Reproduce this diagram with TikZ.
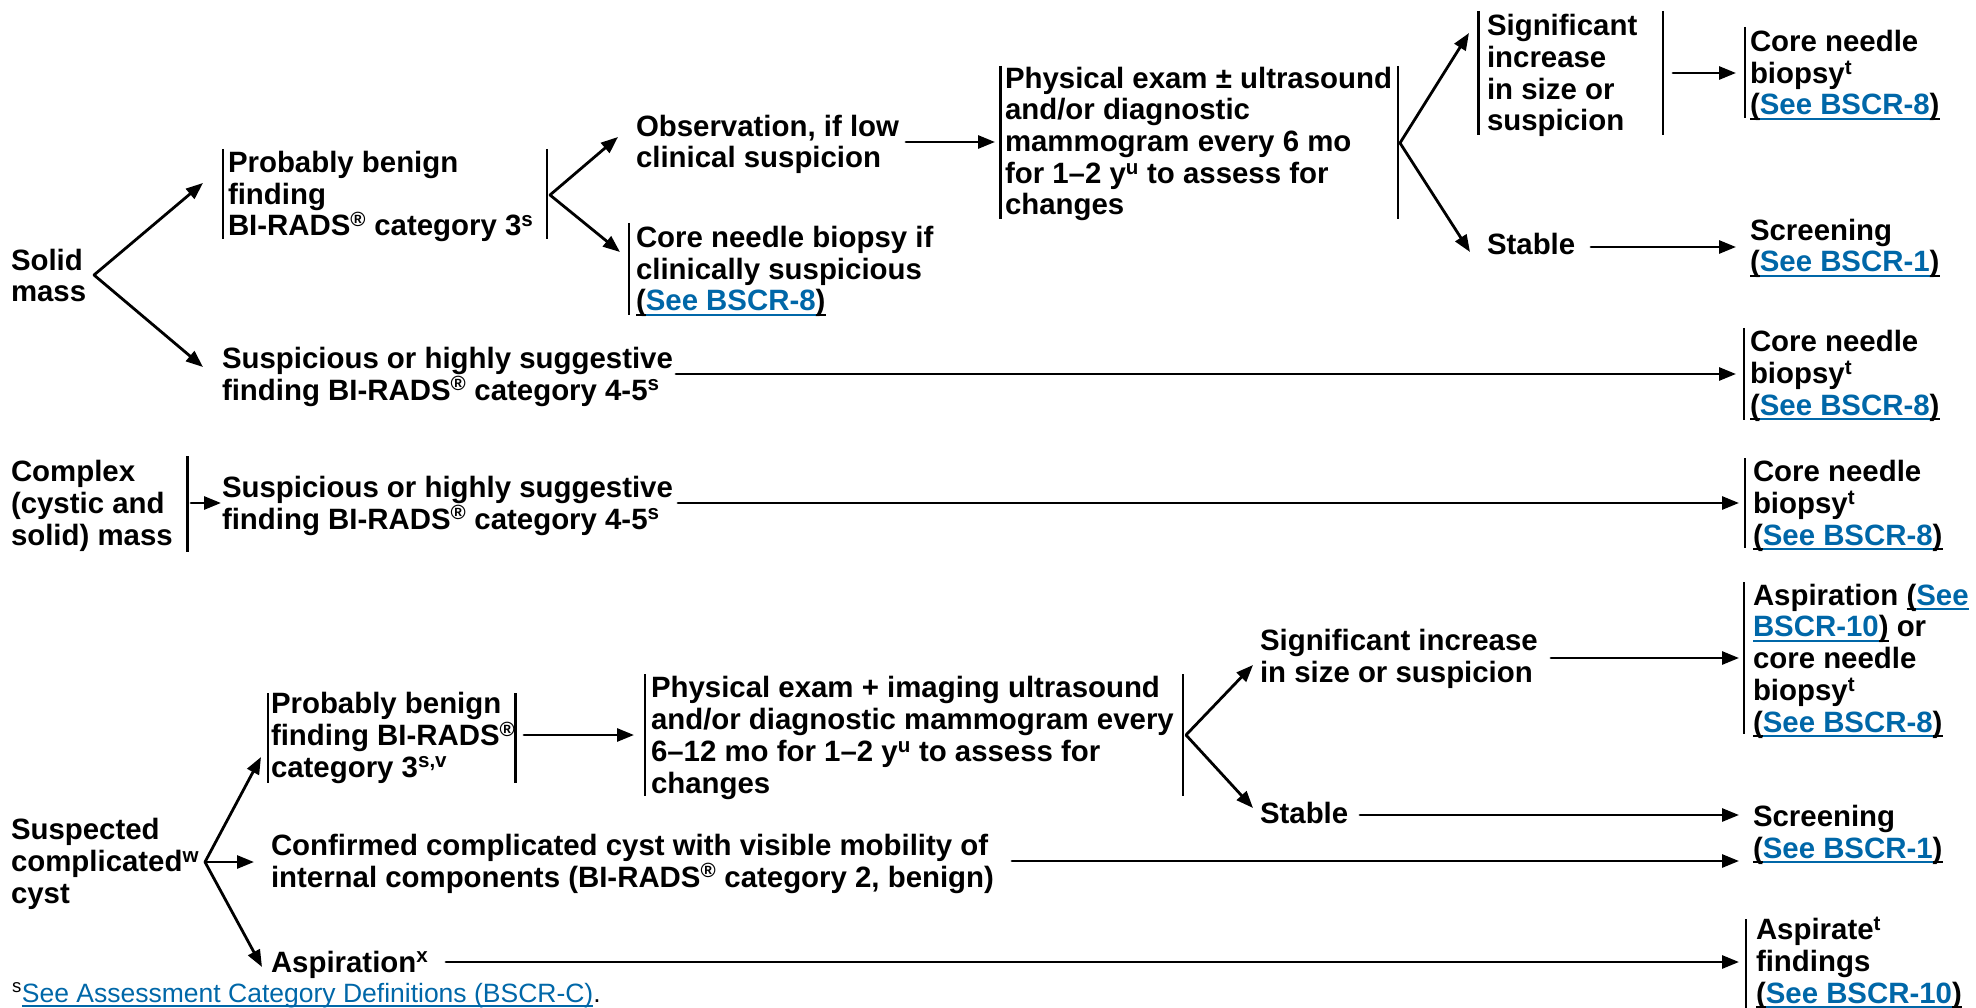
\documentclass[tikz,border=0pt]{standalone}
\usepackage{fontspec}
\setmainfont{Liberation Sans}
\usetikzlibrary{arrows.meta}
\definecolor{linkblue}{HTML}{0067A8}
% underline with a fixed depth below the baseline
\newsavebox\ulbox
\newcommand\uln[1]{\sbox\ulbox{#1}\rlap{\rule[-4.8pt]{\wd\ulbox}{1.8pt}}\usebox\ulbox}
% link text: blue and underlined
\newcommand\lnk[1]{\textcolor{linkblue}{\uln{#1}}}
% reference in parentheses, all underlined
\newcommand\sref[1]{\uln{(}\lnk{#1}\uln{)}}
\newcommand\reg{\textsuperscript{\textregistered}}
\newcommand\fnm[1]{\textsuperscript{#1}}
\begin{document}
\begin{tikzpicture}[x=1pt,y=-1pt,
  % text blocks are placed by the baseline of their last line
  txt/.style={anchor=base west, inner sep=0pt, outer sep=0pt, align=left,
    font=\bfseries\fontsize{29.4}{31.7}\selectfont},
  bar/.style={line width=2.7pt},
  arr/.style={line width=2.8pt, line cap=round, -{Triangle[length=17pt,width=13pt]}},
]
\useasboundingbox (0,0) rectangle (1976,1008);

% ---------- Solid mass ----------
\node[txt] (solid) at (11,302) {Solid\\mass};
\node[txt] (pb1) at (228,236) {Probably benign\\finding\\BI-RADS\reg{} category 3\fnm{s}};
\node[txt] (obs) at (636,168) {Observation, if low\\clinical suspicion};
\node[txt] (cnb1) at (636,311) {Core needle biopsy if\\clinically suspicious\\\sref{See BSCR-8}};
\node[txt] (phys1) at (1005,215) {Physical exam \textpm{} ultrasound\\and/or diagnostic\\mammogram every 6 mo\\for 1--2 y\fnm{u} to assess for\\changes};
\node[txt] (sig1) at (1487,131) {Significant\\increase\\in size or\\suspicion};
\node[txt] (core1) at (1750,115) {Core needle\\biopsy\fnm{t}\\\sref{See BSCR-8}};
\node[txt] (stable1) at (1487,255) {Stable};
\node[txt] (scr1) at (1750,272) {Screening\\\sref{See BSCR-1}};
\node[txt] (susp1) at (222,400) {Suspicious or highly suggestive\\finding BI-RADS\reg{} category 4-5\fnm{s}};
\node[txt] (core2) at (1750,415) {Core needle\\biopsy\fnm{t}\\\sref{See BSCR-8}};

% ---------- Complex mass ----------
\node[txt] (complex) at (11,545) {Complex\\(cystic and\\solid) mass};
\node[txt] (susp2) at (222,529) {Suspicious or highly suggestive\\finding BI-RADS\reg{} category 4-5\fnm{s}};
\node[txt] (core3) at (1753,545) {Core needle\\biopsy\fnm{t}\\\sref{See BSCR-8}};

% ---------- Complicated cyst ----------
\node[txt] (cyst) at (11,903) {Suspected\\complicated\fnm{w}\\cyst};
\node[txt] (pb2) at (271,777) {Probably benign\\finding BI-RADS\reg\\category 3\fnm{s,v}};
\node[txt] (phys2) at (651,793) {Physical exam + imaging ultrasound\\and/or diagnostic mammogram every\\6--12 mo for 1--2 y\fnm{u} to assess for\\changes};
\node[txt] (sig2) at (1260,682) {Significant increase\\in size or suspicion};
\node[txt] (stable2) at (1260,823) {Stable};
\node[txt] (asp1) at (1753,732) {Aspiration \uln{(}\lnk{See}\\\lnk{BSCR-10}\uln{)} or\\core needle\\biopsy\fnm{t}\\\sref{See BSCR-8}};
\node[txt] (scr2) at (1753,858) {Screening\\\sref{See BSCR-1}};
\node[txt] (confirmed) at (271,887) {Confirmed complicated cyst with visible mobility of\\internal components (BI-RADS\reg{} category 2, benign)};
\node[txt] (aspx) at (271,972) {Aspiration\fnm{x}};
\node[txt] (aspirate) at (1756,1003) {Aspirate\fnm{t}\\findings\\\sref{See BSCR-10}};

% footnote
\node[anchor=base west, inner sep=0pt, font=\fontsize{26.5}{30}\selectfont] (fn) at (12,1002)
  {\fnm{s}\lnk{See Assessment Category Definitions (BSCR-C)}.};

% ---------- bracket bars ----------
\draw[bar] (223,149) -- (223,239);   \draw[bar] (547,149) -- (547,239);
\draw[bar] (629,223) -- (629,315);
\draw[bar] (1000.5,66) -- (1000.5,219); \draw[bar] (1398,66) -- (1398,219);
\draw[bar] (1478.5,11) -- (1478.5,135); \draw[bar] (1663,11) -- (1663,135);
\draw[bar] (1745,27) -- (1745,118);
\draw[bar] (1744,328) -- (1744,420);
\draw[bar] (187.5,456) -- (187.5,552);
\draw[bar] (1745,458) -- (1745,548);
\draw[bar] (1744,582) -- (1744,734);
\draw[bar] (268,693) -- (268,783);   \draw[bar] (515.6,693) -- (515.6,783);
\draw[bar] (645,674) -- (645,796);   \draw[bar] (1183,674) -- (1183,796);
\draw[bar] (1746,919) -- (1746,1012);

% ---------- connector end points ----------
\coordinate (solidfork) at (94,275);
\coordinate (pb1in) at (203,183);
\coordinate (susp1in) at (203,367);
\coordinate (pb1fork) at (550,195);
\coordinate (obsin) at (618,137);
\coordinate (cnb1in) at (620,252);
\coordinate (obsout) at (906,142);
\coordinate (phys1in) at (995,142);
\coordinate (phys1fork) at (1400,143);
\coordinate (sig1in) at (1469,33);
\coordinate (stable1in) at (1470,252);
\coordinate (sig1out) at (1673,73);
\coordinate (core1in) at (1736,73);
\coordinate (stable1out) at (1591,247);
\coordinate (scr1in) at (1736,247);
\coordinate (susp1out) at (676,374);
\coordinate (core2in) at (1736,374);
\coordinate (complexout) at (191,503);
\coordinate (susp2in) at (221,503);
\coordinate (susp2out) at (678,503);
\coordinate (core3in) at (1739,503);
\coordinate (cystfork) at (205,862);
\coordinate (pb2in) at (261,757);
\coordinate (confin) at (254,862);
\coordinate (aspxin) at (262,967);
\coordinate (pb2out) at (524,735);
\coordinate (phys2in) at (634,735);
\coordinate (phys2fork) at (1186,735);
\coordinate (sig2in) at (1253,665);
\coordinate (stable2in) at (1253,808);
\coordinate (sig2out) at (1551,658);
\coordinate (asp1in) at (1739,658);
\coordinate (stable2out) at (1360,815);
\coordinate (scr2in) at (1739,815);
\coordinate (confout) at (1012,861);
\coordinate (scr2inb) at (1739,861);
\coordinate (aspxout) at (446,962);
\coordinate (aspiratein) at (1739,962);

% ---------- connectors ----------
\draw[arr] (solidfork) -- (pb1in);
\draw[arr] (solidfork) -- (susp1in);
\draw[arr] (pb1fork) -- (obsin);
\draw[arr] (pb1fork) -- (cnb1in);
\draw[arr] (obsout) -- (phys1in);
\draw[arr] (phys1fork) -- (sig1in);
\draw[arr] (phys1fork) -- (stable1in);
\draw[arr] (sig1out) -- (core1in);
\draw[arr] (stable1out) -- (scr1in);
\draw[arr] (susp1out) -- (core2in);
\draw[arr] (complexout) -- (susp2in);
\draw[arr] (susp2out) -- (core3in);
\draw[arr] (cystfork) -- (pb2in);
\draw[arr] (cystfork) -- (confin);
\draw[arr] (cystfork) -- (aspxin);
\draw[arr] (pb2out) -- (phys2in);
\draw[arr] (phys2fork) -- (sig2in);
\draw[arr] (phys2fork) -- (stable2in);
\draw[arr] (sig2out) -- (asp1in);
\draw[arr] (stable2out) -- (scr2in);
\draw[arr] (confout) -- (scr2inb);
\draw[arr] (aspxout) -- (aspiratein);
\end{tikzpicture}
\end{document}
